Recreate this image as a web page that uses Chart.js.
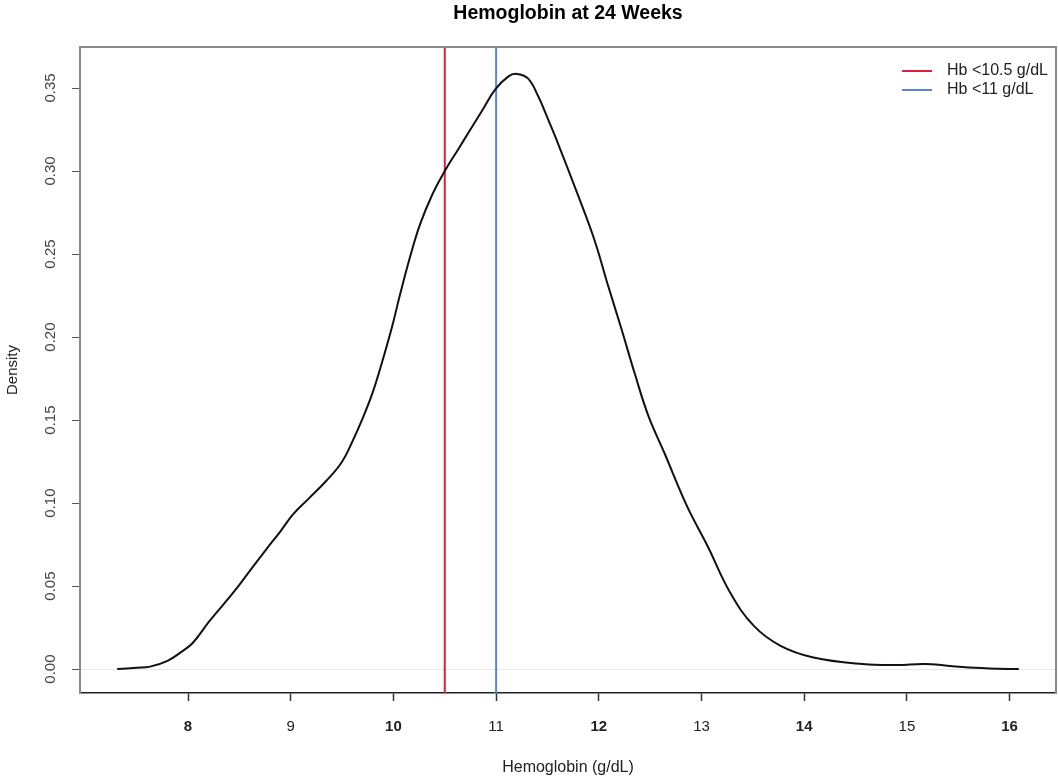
<!DOCTYPE html>
<html>
<head>
<meta charset="utf-8">
<script src="https://cdn.jsdelivr.net/npm/chart.js@4/dist/chart.umd.min.js"></script>
<style>
  html, body { margin: 0; padding: 0; background: #fff; }
  #wrap { width: 1058px; height: 778px; }
</style>
</head>
<body>
<div id="wrap"><canvas id="hbChart"></canvas></div>
<script>
// Density estimate of hemoglobin
const hbValues = [7.31, 7.50, 7.63, 7.80, 7.95, 8.05, 8.21, 8.44, 8.60, 8.76, 8.90, 9.02, 9.18, 9.34, 9.49,
    9.60, 9.70, 9.80, 9.89, 9.99, 10.07, 10.17, 10.26, 10.38, 10.50, 10.63, 10.73, 10.86, 10.99, 11.12,
    11.20, 11.31, 11.41, 11.50, 11.60, 11.80, 11.96, 12.09, 12.22, 12.35, 12.48, 12.64, 12.86, 13.06,
    13.28, 13.51, 13.77, 14.09, 14.57, 14.90, 15.19, 15.54, 15.80, 16.09];
const densityValues = [0.000, 0.0008, 0.0015, 0.005, 0.011, 0.016, 0.029, 0.046, 0.059, 0.072, 0.083, 0.093,
    0.103, 0.113, 0.124, 0.137, 0.151, 0.167, 0.185, 0.207, 0.227, 0.250, 0.268, 0.286, 0.300, 0.313,
    0.323, 0.336, 0.349, 0.357, 0.3585, 0.3558, 0.345, 0.332, 0.317, 0.285, 0.258, 0.231, 0.205, 0.178,
    0.153, 0.130, 0.098, 0.074, 0.046, 0.026, 0.014, 0.007, 0.003, 0.0024, 0.003, 0.0012, 0.0004, 0.000];

// Cutoff lines
const cutoffs = [10.5, 11];
const cutoffLabels = ['Hb <10.5 g/dL', 'Hb <11 g/dL'];
const cutoffColors = ['#d8213a', '#5b84d9'];

// Axis ranges and ticks
const xMin = 6.948, xMax = 16.452;
const yMin = -0.0144, yMax = 0.3747;
const xTicks = [8, 9, 10, 11, 12, 13, 14, 15, 16];
const yStep = 0.05;

const FONT = '"Liberation Sans", Arial, sans-serif';

const densityPoints = hbValues.map((v, i) => ({ x: v, y: densityValues[i] }));

const datasets = [
    {
        label: 'Density',
        data: densityPoints,
        borderColor: '#111111',
        borderWidth: 2,
        pointRadius: 0,
        tension: 0.4,
        fill: false
    }
];
cutoffs.forEach((c, i) => {
    datasets.push({
        label: cutoffLabels[i],
        data: [{ x: c, y: yMin }, { x: c, y: yMax }],
        borderColor: cutoffColors[i],
        borderWidth: 2,
        pointRadius: 0,
        fill: false
    });
});

// frame, rotated y tick labels and legend
const extras = {
    id: 'extras',
    afterDraw(chart) {
        const { ctx, chartArea: a, scales } = chart;
        ctx.save();
        // top and right edges of the box
        ctx.strokeStyle = '#8a8a8a';
        ctx.lineWidth = 2;
        ctx.beginPath();
        ctx.moveTo(a.left, a.top);
        ctx.lineTo(a.right, a.top);
        ctx.lineTo(a.right, a.bottom);
        ctx.stroke();

        // y tick labels, read bottom to top
        ctx.fillStyle = '#444';
        ctx.font = '15px ' + FONT;
        ctx.textAlign = 'center';
        ctx.textBaseline = 'middle';
        scales.y.ticks.forEach(t => {
            const py = scales.y.getPixelForValue(t.value);
            ctx.save();
            ctx.translate(51, py);
            ctx.rotate(-Math.PI / 2);
            ctx.fillText(t.value.toFixed(2), 0, 0);
            ctx.restore();
        });

        // legend
        ctx.font = '16px ' + FONT;
        ctx.textAlign = 'left';
        ctx.fillStyle = '#222';
        cutoffLabels.forEach((lab, i) => {
            const ly = a.top + 24 + i * 19;
            ctx.strokeStyle = cutoffColors[i];
            ctx.lineWidth = 2;
            ctx.beginPath();
            ctx.moveTo(a.right - 154, ly);
            ctx.lineTo(a.right - 124, ly);
            ctx.stroke();
            ctx.fillText(lab, a.right - 109, ly);
        });
        ctx.restore();
    }
};

const ctx = document.getElementById('hbChart').getContext('2d');
new Chart(ctx, {
    type: 'line',
    data: { datasets: datasets },
    options: {
        responsive: true,
        maintainAspectRatio: false,
        animation: false,
        layout: { padding: { left: 0, right: 2, top: 0, bottom: 0 } },
        scales: {
            x: {
                type: 'linear',
                min: xMin,
                max: xMax,
                afterFit: (scale) => { scale.height = 85; },
                afterBuildTicks: (scale) => { scale.ticks = xTicks.map(v => ({ value: v })); },
                ticks: {
                    color: '#222',
                    font: (c) => ({ family: FONT, size: 15, weight: (c.tick && c.tick.value % 2 === 0) ? 'bold' : 'normal' }),
                    padding: 17,
                    maxRotation: 0
                },
                grid: {
                    drawOnChartArea: false,
                    drawTicks: true,
                    tickLength: 8,
                    tickColor: '#333',
                    tickWidth: 1.5
                },
                border: { color: '#222', width: 1.5 },
                title: {
                    display: true,
                    text: 'Hemoglobin (g/dL)',
                    color: '#222',
                    font: { family: FONT, size: 16 },
                    padding: { top: 4, bottom: 1 }
                }
            },
            y: {
                type: 'linear',
                min: yMin,
                max: yMax,
                afterFit: (scale) => { scale.width = 80; },
                ticks: {
                    stepSize: yStep,
                    includeBounds: false,
                    display: false
                },
                grid: {
                    drawOnChartArea: true,
                    color: (c) => (c.tick && Math.abs(c.tick.value) < 1e-9) ? '#e8e8e8' : 'rgba(0,0,0,0)',
                    lineWidth: 1,
                    drawTicks: true,
                    tickLength: 8,
                    tickColor: '#555',
                    tickWidth: 1
                },
                border: { color: '#8a8a8a', width: 2 },
                title: {
                    display: true,
                    text: 'Density',
                    color: '#222',
                    font: { family: FONT, size: 15 },
                    padding: { top: 4, bottom: 4 }
                }
            }
        },
        plugins: {
            legend: { display: false },
            tooltip: { enabled: false },
            title: {
                display: true,
                fullSize: false,
                text: 'Hemoglobin at 24 Weeks',
                color: '#000',
                font: { family: FONT, size: 19.5, weight: 'bold' },
                padding: { top: 2, bottom: 21.6 }
            }
        }
    },
    plugins: [extras]
});
</script>
</body>
</html>
